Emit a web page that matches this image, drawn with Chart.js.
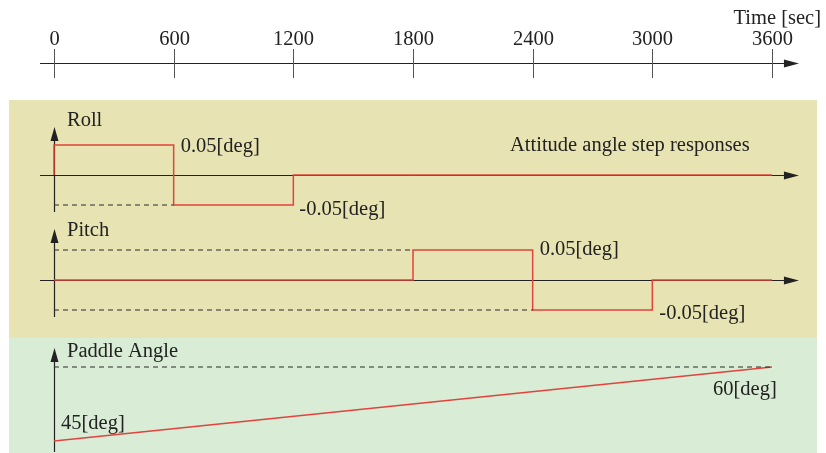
<!DOCTYPE html>
<html>
<head>
<meta charset="utf-8">
<title>Attitude angle step responses</title>
<script src="https://cdn.jsdelivr.net/npm/chart.js@4/dist/chart.umd.min.js"></script>
<style>
  html, body { margin: 0; padding: 0; background: #fff; }
  #wrap { width: 826px; height: 453px; }
</style>
</head>
<body>
<div id="wrap"><canvas id="stepChart" width="826" height="453"></canvas></div>
<script>
// DATA
const timeTicks = [0, 600, 1200, 1800, 2400, 3000, 3600];

const rollTimes = [0, 0, 600, 1200, 3600];
const rollValues = [0, 0.05, -0.05, 0, 0];

const pitchTimes = [0, 1800, 2400, 3000, 3600];
const pitchValues = [0, 0.05, -0.05, 0, 0];

const paddleTimes = [0, 3600];
const paddleValues = [45, 60];

const stepHigh = 0.05;
const stepLow = -0.05;

// LAYOUT (pixels)
const W = 826, H = 453;
const FONT = '20.5px "Liberation Serif", "DejaVu Serif", serif';
const RED = '#e2433d';
const INK = '#222';

// linear mapping of two reference values to two pixel rows/cols -> scale range over full canvas
function rangeFor(v0, p0, v1, p1, size, flip) {
  const per = (v1 - v0) / (p1 - p0);
  const a = v0 - p0 * per;          // value at pixel 0
  const b = v0 + (size - p0) * per; // value at pixel size
  return flip ? { min: Math.min(a, b), max: Math.max(a, b) } : { min: a, max: b };
}

const xRange = rangeFor(0, 54, 3600, 772, W);
const rollRange = rangeFor(0, 175, stepHigh, 145, H, true);
const pitchRange = rangeFor(0, 280, stepHigh, 250, H, true);
const paddleRange = rangeFor(45, 441, 60, 367, H, true);

const pts = (ts, vs) => ts.map((t, i) => ({ x: t, y: vs[i] }));

function redLine(label, data, yAxisID, stepped) {
  return {
    label, data, yAxisID, stepped,
    borderColor: RED, borderWidth: 1.5,
    pointRadius: 0, tension: 0, fill: false, clip: false
  };
}
function dashLine(label, data, yAxisID) {
  return {
    label, data, yAxisID,
    borderColor: '#2a2a2a', borderWidth: 1, borderDash: [5, 4],
    pointRadius: 0, tension: 0, fill: false, clip: false
  };
}

// backgrounds, axes, arrows and text
const diagramPlugin = {
  id: 'diagram',
  beforeDatasetsDraw(chart) {
    const ctx = chart.ctx;
    const x = chart.scales.x;
    const yr = chart.scales.yRoll, yp = chart.scales.yPitch;
    const x0 = x.getPixelForValue(0);
    const xStart = x.getPixelForValue(-70);
    const xTip = x.getPixelForValue(3735);

    ctx.save();
    // panels
    ctx.fillStyle = '#e7e3b2';
    ctx.fillRect(9, 100, 808, 238);
    ctx.fillStyle = '#d9ecd5';
    ctx.fillRect(9, 338, 808, 115);

    // time axis
    const ty = 63;
    ctx.strokeStyle = INK; ctx.lineWidth = 1;
    hLineArrow(ctx, xStart, xTip, ty);
    ctx.strokeStyle = '#555';
    ctx.fillStyle = INK;
    ctx.font = FONT;
    ctx.textAlign = 'center';
    ctx.textBaseline = 'alphabetic';
    timeTicks.forEach(t => {
      const px = Math.round(x.getPixelForValue(t)) + 0.5;
      ctx.beginPath(); ctx.moveTo(px, 49); ctx.lineTo(px, 78); ctx.stroke();
      ctx.fillText(String(t), px, 45);
    });
    ctx.textAlign = 'right';
    ctx.fillText('Time [sec]', 821, 24);

    // roll & pitch zero axes
    ctx.strokeStyle = INK;
    hLineArrow(ctx, xStart, xTip, yr.getPixelForValue(0));
    hLineArrow(ctx, xStart, xTip, yp.getPixelForValue(0));

    // vertical axes
    vLineArrow(ctx, x0, 212, 127);
    vLineArrow(ctx, x0, 317, 229);
    vLineArrow(ctx, x0, 452, 348);
    ctx.restore();
  },
  afterDatasetsDraw(chart) {
    const ctx = chart.ctx;
    const x = chart.scales.x;
    const yr = chart.scales.yRoll, yp = chart.scales.yPitch, yd = chart.scales.yPaddle;
    ctx.save();
    ctx.fillStyle = INK;
    ctx.font = FONT;
    ctx.textAlign = 'left';
    ctx.textBaseline = 'middle';
    const put = (txt, t, scale, v, dx, dy) =>
      ctx.fillText(txt, x.getPixelForValue(t) + dx, scale.getPixelForValue(v) + dy + 1.5);

    ctx.fillText('Roll', 67, 120.5);
    put(stepHigh + '[deg]', 600, yr, stepHigh, 7, 0);
    put(stepLow + '[deg]', 1200, yr, stepLow, 6, 3);
    ctx.fillText('Attitude angle step responses', 510, 145.5);

    ctx.fillText('Pitch', 67, 230.5);
    put(stepHigh + '[deg]', 2400, yp, stepHigh, 7, -2);
    put(stepLow + '[deg]', 3000, yp, stepLow, 7, 2);

    ctx.fillText('Paddle Angle', 67, 351.5);
    put(paddleValues[0] + '[deg]', 0, yd, paddleValues[0], 7, -19);
    put(paddleValues[1] + '[deg]', 3600, yd, paddleValues[1], -59, 21);
    ctx.restore();
  }
};

function hLineArrow(ctx, xa, xb, y) {
  y = Math.round(y) + 0.5;
  ctx.beginPath(); ctx.moveTo(xa, y); ctx.lineTo(xb - 12, y); ctx.stroke();
  ctx.fillStyle = INK;
  ctx.beginPath();
  ctx.moveTo(xb, y); ctx.lineTo(xb - 15, y - 4); ctx.lineTo(xb - 15, y + 4);
  ctx.closePath(); ctx.fill();
}
function vLineArrow(ctx, x, yBottom, yTip) {
  x = Math.round(x) + 0.5;
  ctx.strokeStyle = INK; ctx.lineWidth = 1.2;
  ctx.beginPath(); ctx.moveTo(x, yBottom); ctx.lineTo(x, yTip + 10); ctx.stroke();
  ctx.fillStyle = INK;
  ctx.beginPath();
  ctx.moveTo(x, yTip); ctx.lineTo(x - 4, yTip + 14); ctx.lineTo(x + 4, yTip + 14);
  ctx.closePath(); ctx.fill();
  ctx.lineWidth = 1;
}

const chart = new Chart(document.getElementById('stepChart'), {
  type: 'line',
  data: {
    datasets: [
      dashLine('Roll min', pts([0, 600], [stepLow, stepLow]), 'yRoll'),
      dashLine('Pitch max', pts([0, 1800], [stepHigh, stepHigh]), 'yPitch'),
      dashLine('Pitch min', pts([0, 2400], [stepLow, stepLow]), 'yPitch'),
      dashLine('Paddle max', pts([0, 3600], [paddleValues[1], paddleValues[1]]), 'yPaddle'),
      redLine('Roll', pts(rollTimes, rollValues), 'yRoll', true),
      redLine('Pitch', pts(pitchTimes, pitchValues), 'yPitch', true),
      redLine('Paddle Angle', pts(paddleTimes, paddleValues), 'yPaddle', false)
    ]
  },
  options: {
    responsive: false,
    animation: false,
    layout: { padding: 0 },
    plugins: { legend: { display: false }, tooltip: { enabled: false } },
    scales: {
      x: { type: 'linear', display: false, min: xRange.min, max: xRange.max },
      yRoll: { type: 'linear', display: false, min: rollRange.min, max: rollRange.max },
      yPitch: { type: 'linear', display: false, min: pitchRange.min, max: pitchRange.max },
      yPaddle: { type: 'linear', display: false, min: paddleRange.min, max: paddleRange.max }
    }
  },
  plugins: [diagramPlugin]
});
</script>
</body>
</html>
